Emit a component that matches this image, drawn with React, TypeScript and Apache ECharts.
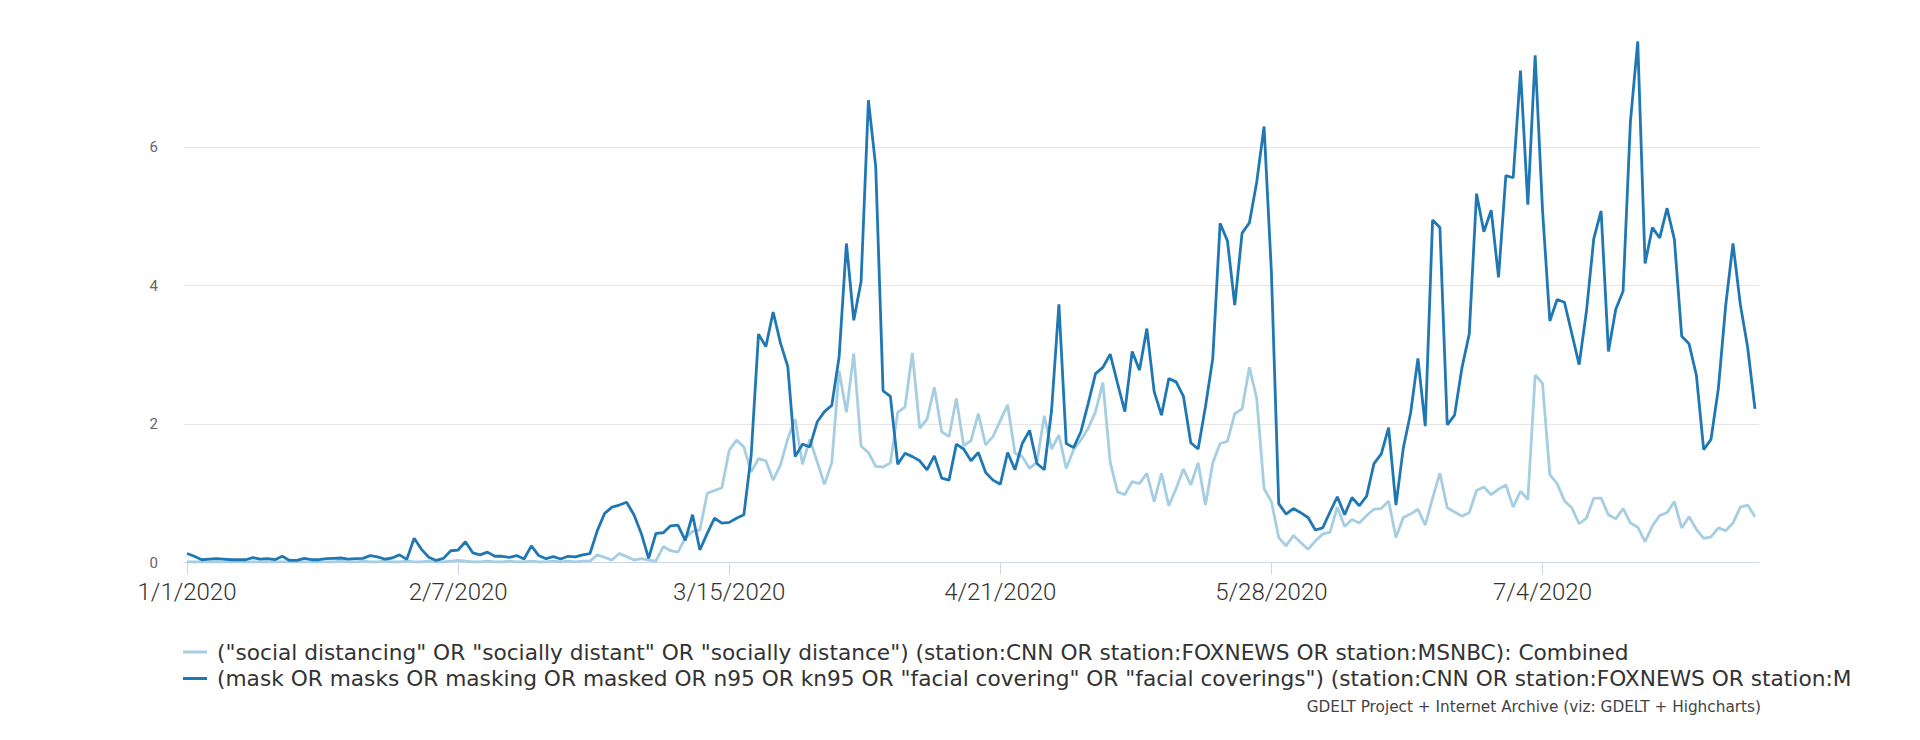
import React, { useEffect, useRef } from "react";
import * as echarts from "echarts";

// Daily values, 1/1/2020 (index 0) through 8/2/2020 (index 214)
const socialDistancing: number[] = [
  0.01, 0.01, 0.01, 0.01, 0.01, 0.01, 0.01, 0.01, 0.01, 0.01,
  0.01, 0.01, 0.01, 0.01, 0.01, 0.01, 0.01, 0.01, 0.01, 0.01,
  0.01, 0.02, 0.01, 0.01, 0.02, 0.01, 0.01, 0.02, 0.01, 0.01,
  0.02, 0.01, 0.01, 0.02, 0.01, 0.01, 0.02, 0.03, 0.02, 0.01,
  0.01, 0.02, 0.01, 0.01, 0.02, 0.01, 0.01, 0.02, 0.01, 0.01,
  0.02, 0.01, 0.02, 0.01, 0.02, 0.02, 0.11, 0.075, 0.035, 0.13,
  0.085, 0.035, 0.055, 0.035, 0.02, 0.23, 0.17, 0.15, 0.35, 0.45,
  0.47, 1.0, 1.04, 1.08, 1.62, 1.77, 1.67, 1.31, 1.5, 1.47,
  1.19, 1.41, 1.79, 2.07, 1.42, 1.78, 1.46, 1.13, 1.44, 2.77,
  2.17, 3.02, 1.68, 1.59, 1.39, 1.38, 1.44, 2.17, 2.25, 3.03,
  1.94, 2.07, 2.53, 1.89, 1.82, 2.37, 1.69, 1.76, 2.15, 1.7,
  1.82, 2.05, 2.28, 1.58, 1.53, 1.36, 1.45, 2.12, 1.64, 1.84,
  1.36, 1.63, 1.77, 1.94, 2.18, 2.6, 1.45, 1.02, 0.98, 1.17,
  1.14, 1.29, 0.88, 1.29, 0.82, 1.07, 1.35, 1.12, 1.44, 0.83,
  1.44, 1.72, 1.75, 2.15, 2.22, 2.82, 2.37, 1.07, 0.88, 0.36,
  0.24, 0.39, 0.29, 0.19, 0.31, 0.41, 0.44, 0.8, 0.52, 0.62,
  0.57, 0.68, 0.77, 0.78, 0.89, 0.36, 0.65, 0.7, 0.77, 0.54,
  0.93, 1.29, 0.79, 0.73, 0.67, 0.72, 1.04, 1.09, 0.98, 1.06,
  1.12, 0.8, 1.03, 0.91, 2.71, 2.59, 1.27, 1.14, 0.89, 0.79,
  0.56, 0.64, 0.93, 0.93, 0.69, 0.63, 0.78, 0.57, 0.51, 0.3,
  0.53, 0.68, 0.72, 0.88, 0.5, 0.66, 0.48, 0.35, 0.37, 0.5,
  0.46, 0.57, 0.8, 0.83, 0.66,
];

const masks: number[] = [
  0.13, 0.09, 0.04, 0.05, 0.055, 0.05, 0.04, 0.04, 0.04, 0.07,
  0.05, 0.055, 0.04, 0.09, 0.03, 0.03, 0.06, 0.04, 0.04, 0.055,
  0.06, 0.065, 0.05, 0.055, 0.06, 0.1, 0.08, 0.05, 0.065, 0.11,
  0.045, 0.35, 0.19, 0.075, 0.03, 0.06, 0.17, 0.18, 0.3, 0.14,
  0.11, 0.15, 0.09, 0.09, 0.075, 0.1, 0.05, 0.24, 0.1, 0.055,
  0.085, 0.05, 0.09, 0.08, 0.11, 0.13, 0.46, 0.71, 0.8, 0.83,
  0.87, 0.69, 0.42, 0.06, 0.42, 0.43, 0.53, 0.54, 0.32, 0.69,
  0.18, 0.42, 0.64, 0.57, 0.58, 0.64, 0.69, 1.55, 3.3, 3.12,
  3.62, 3.17, 2.83, 1.53, 1.71, 1.67, 2.03, 2.18, 2.27, 2.97,
  4.61, 3.5, 4.06, 6.68, 5.72, 2.48, 2.4, 1.42, 1.58, 1.53,
  1.47, 1.34, 1.54, 1.22, 1.19, 1.71, 1.64, 1.47, 1.59, 1.3,
  1.19, 1.13, 1.59, 1.34, 1.72, 1.91, 1.43, 1.34, 2.2, 3.73,
  1.72, 1.66, 1.89, 2.3, 2.73, 2.82, 3.01, 2.59, 2.18, 3.05,
  2.78, 3.38, 2.47, 2.13, 2.66, 2.61, 2.4, 1.73, 1.64, 2.25,
  2.95, 4.9, 4.65, 3.72, 4.76, 4.91, 5.5, 6.3, 4.2, 0.85,
  0.7, 0.78, 0.72, 0.65, 0.47, 0.5, 0.73, 0.95, 0.69, 0.94,
  0.82, 0.96, 1.43, 1.57, 1.95, 0.83, 1.65, 2.16, 2.95, 1.97,
  4.95, 4.84, 1.99, 2.13, 2.81, 3.3, 5.33, 4.78, 5.09, 4.12,
  5.59, 5.56, 7.11, 5.17, 7.33, 5.1, 3.49, 3.8, 3.76, 3.31,
  2.86, 3.63, 4.68, 5.08, 3.05, 3.66, 3.92, 6.37, 7.53, 4.32,
  4.84, 4.69, 5.12, 4.67, 3.27, 3.16, 2.71, 1.63, 1.78, 2.51,
  3.71, 4.61, 3.73, 3.11, 2.22,
];

const tickDays: number[] = [0, 37, 74, 111, 148, 185];
const tickLabels: string[] = ["1/1/2020", "2/7/2020", "3/15/2020", "4/21/2020", "5/28/2020", "7/4/2020"];

const seriesNames: string[] = [
  '("social distancing" OR "socially distant" OR "socially distance") (station:CNN OR station:FOXNEWS OR station:MSNBC): Combined',
  '(mask OR masks OR masking OR masked OR n95 OR kn95 OR "facial covering" OR "facial coverings") (station:CNN OR station:FOXNEWS OR station:MSNBC): Combined',
];
// The second legend entry is cut off at the chart edge in the original
const legendCut = "station:FOXNEWS OR station:M";
const seriesColors: string[] = ["#a6cee3", "#1f78b4"];
const creditText = "GDELT Project + Internet Archive (viz: GDELT + Highcharts)";

export default function App() {
  const ref = useRef<HTMLDivElement>(null);

  useEffect(() => {
    document.body.style.margin = "0";
    if (!ref.current) return;
    const chart = echarts.init(ref.current, undefined, { renderer: "svg" });
    const font = "Roboto, 'DejaVu Sans', sans-serif";
    const toPairs = (arr: number[]) => arr.map((v, i) => [i, v]);
    chart.setOption({
      animation: false,
      backgroundColor: "#ffffff",
      grid: { left: 184, right: 161, top: 8.9, bottom: 177.5, containLabel: false },
      xAxis: {
        type: "value",
        min: -0.41,
        max: 214.55,
        axisLine: { show: true, lineStyle: { color: "#ccd6eb", width: 1 } },
        axisTick: {
          show: true,
          customValues: tickDays,
          length: 12,
          lineStyle: { color: "#ccd6eb", width: 1 },
        },
        axisLabel: {
          customValues: tickDays,
          formatter: (v: number) => {
            const k = tickDays.indexOf(Math.round(v));
            return k >= 0 ? tickLabels[k] : "";
          },
          margin: 17,
          fontSize: 24,
          fontFamily: font,
          fontWeight: 300,
          color: "#333333",
        },
        splitLine: { show: false },
      },
      yAxis: {
        type: "value",
        min: 0,
        max: 8,
        interval: 2,
        axisLine: { show: false },
        axisTick: { show: false },
        axisLabel: {
          formatter: (v: number) => (v >= 8 ? "" : String(v)),
          margin: 26,
          fontSize: 15,
          fontFamily: font,
          color: "#666666",
        },
        splitLine: {
          show: true,
          lineStyle: {
            color: ["#e6e6e6", "#e6e6e6", "#e6e6e6", "#e6e6e6", "rgba(0,0,0,0)"],
            width: 1,
          },
        },
      },
      legend: {
        orient: "vertical",
        left: 178,
        top: 636,
        icon: "rect",
        itemWidth: 24,
        itemHeight: 3,
        itemGap: 4.5,
        data: seriesNames,
        formatter: (name: string) => {
          const k = name.indexOf(legendCut);
          return name === seriesNames[1] && k >= 0 ? name.slice(0, k + legendCut.length) : name;
        },
        textStyle: {
          fontFamily: "'DejaVu Sans', sans-serif",
          fontSize: 21.7,
          lineHeight: 22,
          color: "#333333",
          padding: [0, 0, 0, 5],
        },
      },
      graphic: [
        {
          type: "text",
          right: 159,
          top: 699,
          style: {
            text: creditText,
            fontSize: 15.3,
            fontFamily: "'DejaVu Sans', sans-serif",
            fill: "#444444",
          },
        },
      ],
      series: [
        {
          name: seriesNames[0],
          type: "line",
          data: toPairs(socialDistancing),
          showSymbol: false,
          color: seriesColors[0],
          lineStyle: { width: 2.8, color: seriesColors[0] },
          z: 2,
        },
        {
          name: seriesNames[1],
          type: "line",
          data: toPairs(masks),
          showSymbol: false,
          color: seriesColors[1],
          lineStyle: { width: 2.8, color: seriesColors[1] },
          z: 3,
        },
      ],
    });
    return () => chart.dispose();
  }, []);

  return <div ref={ref} style={{ width: 1920, height: 740 }} />;
}
